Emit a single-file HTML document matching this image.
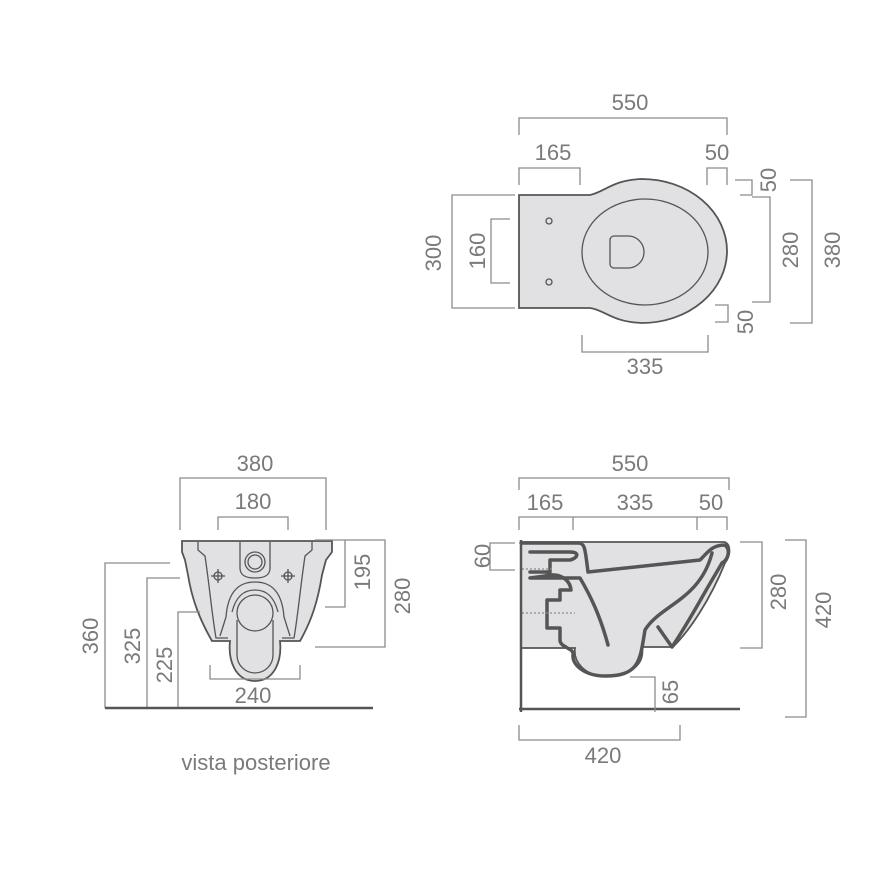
<!DOCTYPE html>
<html><head><meta charset="utf-8"><style>
body{margin:0;background:#fff}
svg{display:block}
text{font-family:"Liberation Sans",sans-serif;fill:#7a7a7a;font-size:22px;text-anchor:middle}
.d{stroke:#8c8c8c;stroke-width:1.3;fill:none}
.o{stroke:#555;stroke-width:1.8;fill:#e1e1e3}
.k{stroke:#555;stroke-width:3.5;fill:none;stroke-linejoin:round;stroke-linecap:round}
.t{stroke:#555;stroke-width:1.3;fill:none}
</style></head><body>
<svg width="886" height="886" viewBox="0 0 886 886">
<!-- TOP VIEW -->
<path class="o" d="M519,195 L590,195 C605,192 612,180 642,179 A85,72 0 1 1 642,323 C612,322 605,310 590,308 L519,308 Z"/>
<ellipse class="t" cx="645" cy="252" rx="63" ry="53"/>
<path class="t" d="M614,236 L628,236 A16,16 0 0 1 628,268 L614,268 A4,4 0 0 1 610,264 L610,240 A4,4 0 0 1 614,236 Z"/>
<circle class="t" cx="549" cy="221" r="3"/><circle class="t" cx="549" cy="282" r="3"/>
<path class="d" d="M519,135 V118 H727 V135 M519,185 V168 H580 V185 M707,185 V168 H727 V185"/>
<path class="d" d="M735,180 H752 V195 H740 M752,197 H770 V302 H752 M790,180 H812 V323 H790 M715,305 H728 V322 H715"/>
<path class="d" d="M582,335 V352 H708 V335 M515,195 H452 V308 H515 M510,219 H491 V283 H510"/>
<text x="630" y="110">550</text><text x="553" y="160">165</text><text x="717" y="160">50</text>
<text x="645" y="374">335</text>
<text transform="translate(776,180) rotate(-90)">50</text>
<text transform="translate(798,250) rotate(-90)">280</text>
<text transform="translate(840,250) rotate(-90)">380</text>
<text transform="translate(753,322) rotate(-90)">50</text>
<text transform="translate(441,253) rotate(-90)">300</text>
<text transform="translate(485,251) rotate(-90)">160</text>
<!-- REAR VIEW -->
<path class="o" d="M182,541 H332 V552 L326,560 L322,575 C318,600 312,620 300,641 H280 C282,660 275,681 255,681 C235,681 228,660 230,641 H212 C200,620 192,600 188,575 L185,560 L182,552 Z"/>
<path class="t" d="M198,542 V550 L205,556 C210,590 212,615 216,638 L228,638 M312,542 V550 L305,556 C300,590 298,615 294,638 L282,638"/>
<path class="t" d="M226,617 C228,590 240,582 255,582 C270,582 282,590 284,617 L290,636 M226,617 L220,636 M232,612 C236,596 244,590 255,590 C266,590 274,596 278,612"/>
<path class="t" d="M240,542 V568 C240,575 245,578 255,578 C265,578 270,575 270,568 V542"/>
<circle class="t" cx="255" cy="562" r="10"/><circle class="t" cx="255" cy="562" r="7"/>
<circle class="t" cx="255" cy="613" r="18"/>
<path class="t" d="M237,620 V655 A18,18 0 0 0 273,655 V620"/>
<circle class="t" cx="218" cy="576" r="4"/><circle class="t" cx="288" cy="576" r="4"/>
<path class="t" d="M211,576 H225 M218,569 V583 M281,576 H295 M288,569 V583"/>
<path class="d" d="M180,530 V478 H326 V530 M218,530 V517 H288 V530 M210,665 V679 H300 V665"/>
<path class="d" d="M325,540 H345 V607 H325 M315,540 H385 V647 H315"/>
<path class="d" d="M170,563 H105 V708 M180,578 H147 V708 M200,612 H178 V708"/>
<path d="M105,708 H373" stroke="#555" stroke-width="2.5"/>
<text x="255" y="471">380</text><text x="253" y="509">180</text><text x="253" y="703">240</text>
<text transform="translate(370,572) rotate(-90)">195</text>
<text transform="translate(410,596) rotate(-90)">280</text>
<text transform="translate(98,636) rotate(-90)">360</text>
<text transform="translate(140,646) rotate(-90)">325</text>
<text transform="translate(172,665) rotate(-90)">225</text>
<text x="256" y="770">vista posteriore</text>
<!-- SIDE VIEW -->
<path class="o" d="M521,542 H725 C731,545 731,555 725,563 C710,600 690,630 673,647 H642 C645,665 630,676 605,676 C585,676 573,662 575,648 H521 Z" stroke="none"/>
<path class="k" d="M521,543 H578 C585,543 585,548 588,572 L700,560 C708,552 712,545 725,545 C731,550 728,560 722,563 L715,575 C700,600 690,620 672,647 L658,627 M712,553 C700,600 660,605 645,630 C640,660 640,676 605,676 C585,676 572,665 573,655 C575,648 560,648 560,640 V628 H547 V600 H560 V590 H571 C570,580 560,572 545,576 L530,578 H580 C590,595 600,615 608,645 M530,552 H570 C580,552 578,558 570,560 H550 V572 H530"/>
<path class="d" d="M522,569 H552 M522,613 H575" stroke-dasharray="2 2"/>
<path d="M521,540 V712 M519,709 H740" stroke="#555" stroke-width="2.5" fill="none"/>
<path class="d" d="M519,490 V478 H729 V490 M519,530 V517 H727 V530 M573,517 V530 M697,517 V530"/>
<path class="d" d="M515,543 H490 V570 H515 M740,542 H762 V648 H740 M785,540 H806 V717 H785 M630,677 H655 V712"/>
<path class="d" d="M519,725 V740 H680 V725"/>
<text x="630" y="471">550</text><text x="545" y="510">165</text><text x="635" y="510">335</text><text x="711" y="510">50</text>
<text transform="translate(490,556) rotate(-90)">60</text>
<text transform="translate(786,592) rotate(-90)">280</text>
<text transform="translate(831,610) rotate(-90)">420</text>
<text transform="translate(678,692) rotate(-90)">65</text>
<text x="603" y="763">420</text>
</svg>
</body></html>
